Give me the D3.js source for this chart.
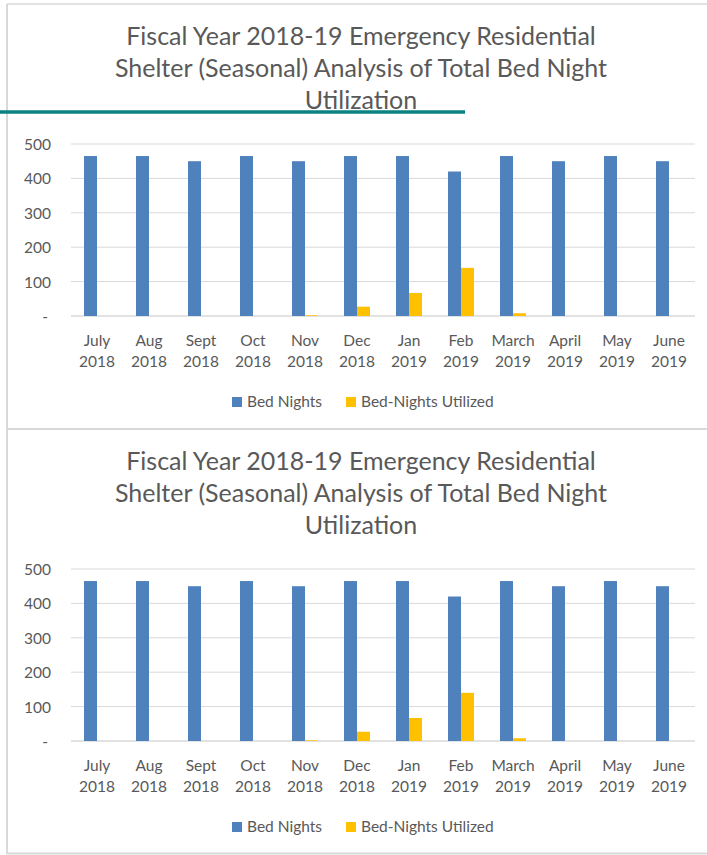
<!DOCTYPE html>
<html>
<head>
<meta charset="utf-8">
<script src="https://cdn.jsdelivr.net/npm/d3@7"></script>
<style>
  body { margin: 0; background: #fff; }
  text { font-family: Lato, "Open Sans", sans-serif; fill: #595959; }
</style>
</head>
<body>
<div id="chart"></div>
<script>
// data
var months = ["July", "Aug", "Sept", "Oct", "Nov", "Dec", "Jan", "Feb", "March", "April", "May", "June"];
var years = ["2018", "2018", "2018", "2018", "2018", "2018", "2019", "2019", "2019", "2019", "2019", "2019"];
var bedNights = [465, 465, 450, 465, 450, 465, 465, 420, 465, 450, 465, 450];
var utilized = [0, 0, 0, 0, 2, 27, 67, 140, 8, 0, 0, 0];
var yTicks = [0, 100, 200, 300, 400, 500];
var seriesNames = ["Bed Nights", "Bed-Nights Utilized"];
var colors = ["#4f81bd", "#ffc000"];
var titleLines = ["Fiscal Year 2018-19 Emergency Residential",
                  "Shelter (Seasonal) Analysis of Total Bed Night",
                  "Utilization"];

var W = 707, H = 855;

var svg = d3.select("#chart").append("svg")
  .attr("width", W)
  .attr("height", H);

svg.append("rect").attr("width", W).attr("height", H).attr("fill", "#fff");

var data = months.map(function(m, i) {
  return { month: m, year: years[i], values: [bedNights[i], utilized[i]] };
});

var margin = { left: 71, right: 12 };

// category band, bars fill the middle half of each step
var x = d3.scaleBand()
  .domain(months)
  .range([margin.left, W - margin.right])
  .paddingInner(0.5)
  .paddingOuter(0.25);

var xInner = d3.scaleBand()
  .domain([0, 1])
  .range([0, x.bandwidth()]);

function drawPanel(top) {
  var g = svg.append("g").attr("transform", "translate(0," + top + ")");

  var y = d3.scaleLinear()
    .domain([0, 500])
    .range([312, 140]);

  // title
  var title = g.append("text")
    .attr("text-anchor", "middle")
    .style("font-size", "25px");
  titleLines.forEach(function(line, i) {
    title.append("tspan")
      .attr("x", 361)
      .attr("y", 41 + i * 32)
      .text(line);
  });

  // gridlines
  g.append("g")
    .selectAll("line")
    .data(yTicks)
    .enter()
    .append("line")
      .attr("x1", margin.left)
      .attr("x2", W - margin.right)
      .attr("y1", function(d) { return y(d); })
      .attr("y2", function(d) { return y(d); })
      .attr("stroke", "#d9d9d9")
      .attr("stroke-width", function(d) { return d === 0 ? 1.5 : 1; });

  // y axis labels
  var yAxis = g.append("g")
    .attr("transform", "translate(" + 51 + ",0)")
    .call(d3.axisLeft(y).tickValues(yTicks).tickSize(0).tickPadding(0)
      .tickFormat(function(d) { return d === 0 ? "-" : d; }));
  yAxis.select(".domain").remove();
  yAxis.selectAll("text")
    .attr("font-family", null)
    .style("font-size", "15.5px")
    .attr("dy", "0.36em")
    .attr("x", function(d) { return d === 0 ? -3 : 0; });

  // bars
  var groups = g.append("g")
    .selectAll("g")
    .data(data)
    .enter()
    .append("g")
      .attr("transform", function(d) { return "translate(" + x(d.month) + ",0)"; });

  groups.selectAll("rect")
    .data(function(d) { return d.values; })
    .enter()
    .append("rect")
      .attr("x", function(d, i) { return xInner(i); })
      .attr("y", function(d) { return y(d); })
      .attr("width", xInner.bandwidth())
      .attr("height", function(d) { return y(0) - y(d); })
      .attr("fill", function(d, i) { return colors[i]; });

  // x labels, two lines each
  var xLabels = g.append("g")
    .selectAll("text")
    .data(data)
    .enter()
    .append("text")
      .attr("text-anchor", "middle")
      .style("font-size", "15.5px");
  xLabels.append("tspan")
    .attr("x", function(d) { return x(d.month) + x.bandwidth() / 2; })
    .attr("y", 342)
    .text(function(d) { return d.month; });
  xLabels.append("tspan")
    .attr("x", function(d) { return x(d.month) + x.bandwidth() / 2; })
    .attr("y", 363)
    .text(function(d) { return d.year; });

  // legend
  var legendX = [232, 346];
  var legend = g.append("g")
    .selectAll("g")
    .data(seriesNames)
    .enter()
    .append("g")
      .attr("transform", function(d, i) { return "translate(" + legendX[i] + ",393)"; });
  legend.append("rect")
    .attr("width", 10)
    .attr("height", 10)
    .attr("fill", function(d, i) { return colors[i]; });
  legend.append("text")
    .attr("x", 15)
    .attr("y", 9.5)
    .style("font-size", "15.5px")
    .text(function(d) { return d; });
}

drawPanel(4);
drawPanel(429);

// frame lines
svg.append("line").attr("x1", 7).attr("x2", 7).attr("y1", 4).attr("y2", 854)
  .attr("stroke", "#d9d9d9").attr("stroke-width", 2);
svg.append("line").attr("x1", 7).attr("x2", W).attr("y1", 4).attr("y2", 4)
  .attr("stroke", "#d9d9d9").attr("stroke-width", 1.5);
svg.append("line").attr("x1", 7).attr("x2", W).attr("y1", 429).attr("y2", 429)
  .attr("stroke", "#d9d9d9").attr("stroke-width", 2);
svg.append("line").attr("x1", 7).attr("x2", W).attr("y1", 853.5).attr("y2", 853.5)
  .attr("stroke", "#d9d9d9").attr("stroke-width", 2);

// teal rule that sits over the first title
svg.append("line")
  .attr("x1", 0).attr("x2", 465)
  .attr("y1", 112).attr("y2", 112)
  .attr("stroke", "#0b8282")
  .attr("stroke-width", 3.5);
</script>
</body>
</html>
